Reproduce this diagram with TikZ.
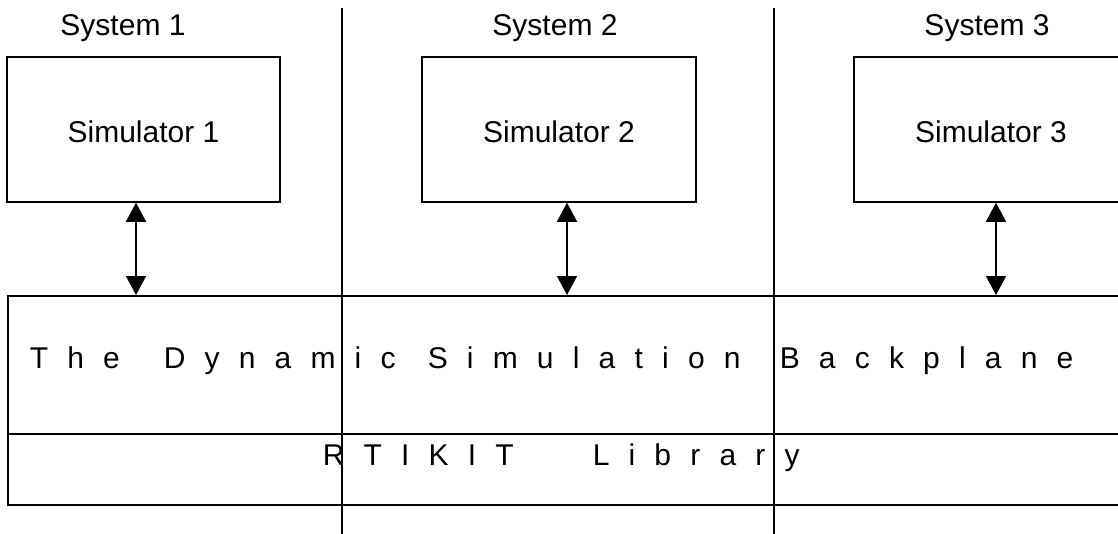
\documentclass[tikz,border=0pt]{standalone}
\usepackage{fontspec}
\setmainfont{Liberation Sans}
\usetikzlibrary{arrows.meta}
\newlength\lsgap
\setlength\lsgap{19.2pt}
\ExplSyntaxOn
\NewDocumentCommand\spacedword{m}{\tl_map_inline:nn{#1}{##1\hspace{\lsgap}}\unskip}
\ExplSyntaxOff
\begin{document}
\begin{tikzpicture}[x=1pt,y=-1pt,line width=1.5pt,
  every node/.style={font=\fontsize{30}{36}\selectfont},
  simbox/.style={draw,minimum width=273pt,minimum height=145pt,inner sep=0pt,text height=26pt,text depth=0pt},
  band/.style={draw,inner sep=0pt,anchor=north west,minimum width=1125pt},
  word/.style={anchor=base west,inner sep=0pt},
  syslabel/.style={anchor=base,inner sep=0pt},
  biarrow/.style={{Triangle[width=20pt,length=19pt]}-{Triangle[width=20pt,length=19pt]}},
  divider/.style={line width=1.5pt}]
\clip (0,0) rectangle (1118,533);
% system labels
\node[syslabel] (sys1) at (123,35) {System 1};
\node[syslabel] (sys2) at (555,35) {System 2};
\node[syslabel] (sys3) at (987,35) {System 3};
% simulators
\node[simbox] (s1) at (143.5,129.5) {Simulator 1};
\node[simbox,minimum width=274pt] (s2) at (559,129.5) {Simulator 2};
\node[simbox,minimum width=274pt] (s3) at (991,129.5) {Simulator 3};
% backplane and library bands
\node[band,minimum height=138pt] (bp) at (7,295) {};
\node[band,minimum height=71pt] (lib) at (7,433) {};
% text of the bands
\node[word] (w1) at (29,368) {\spacedword{The}};
\node[word] (w2) at (163,368) {\spacedword{Dynamic}};
\node[word] (w3) at (427,368) {\spacedword{Simulation}};
\node[word] (w4) at (779,368) {\spacedword{Backplane}};
\node[word] (w5) at (322,465) {\spacedword{RTIKIT}};
\node[word] (w6) at (592,465) {\spacedword{Library}};
% arrows
\path (s1.south) ++(-7.5,0) coordinate (a1);
\path (s2.south) ++(8,0) coordinate (a2);
\path (s3.south) ++(5,0) coordinate (a3);
\draw[biarrow] (a1) -- (a1 |- bp.north);
\draw[biarrow] (a2) -- (a2 |- bp.north);
\draw[biarrow] (a3) -- (a3 |- bp.north);
% dividers
\coordinate (d1t) at (342,8);
\coordinate (d1b) at (342,540);
\coordinate (d2t) at (774,8);
\coordinate (d2b) at (774,540);
\draw[divider] (d1t) -- (d1b);
\draw[divider] (d2t) -- (d2b);
\end{tikzpicture}
\end{document}
